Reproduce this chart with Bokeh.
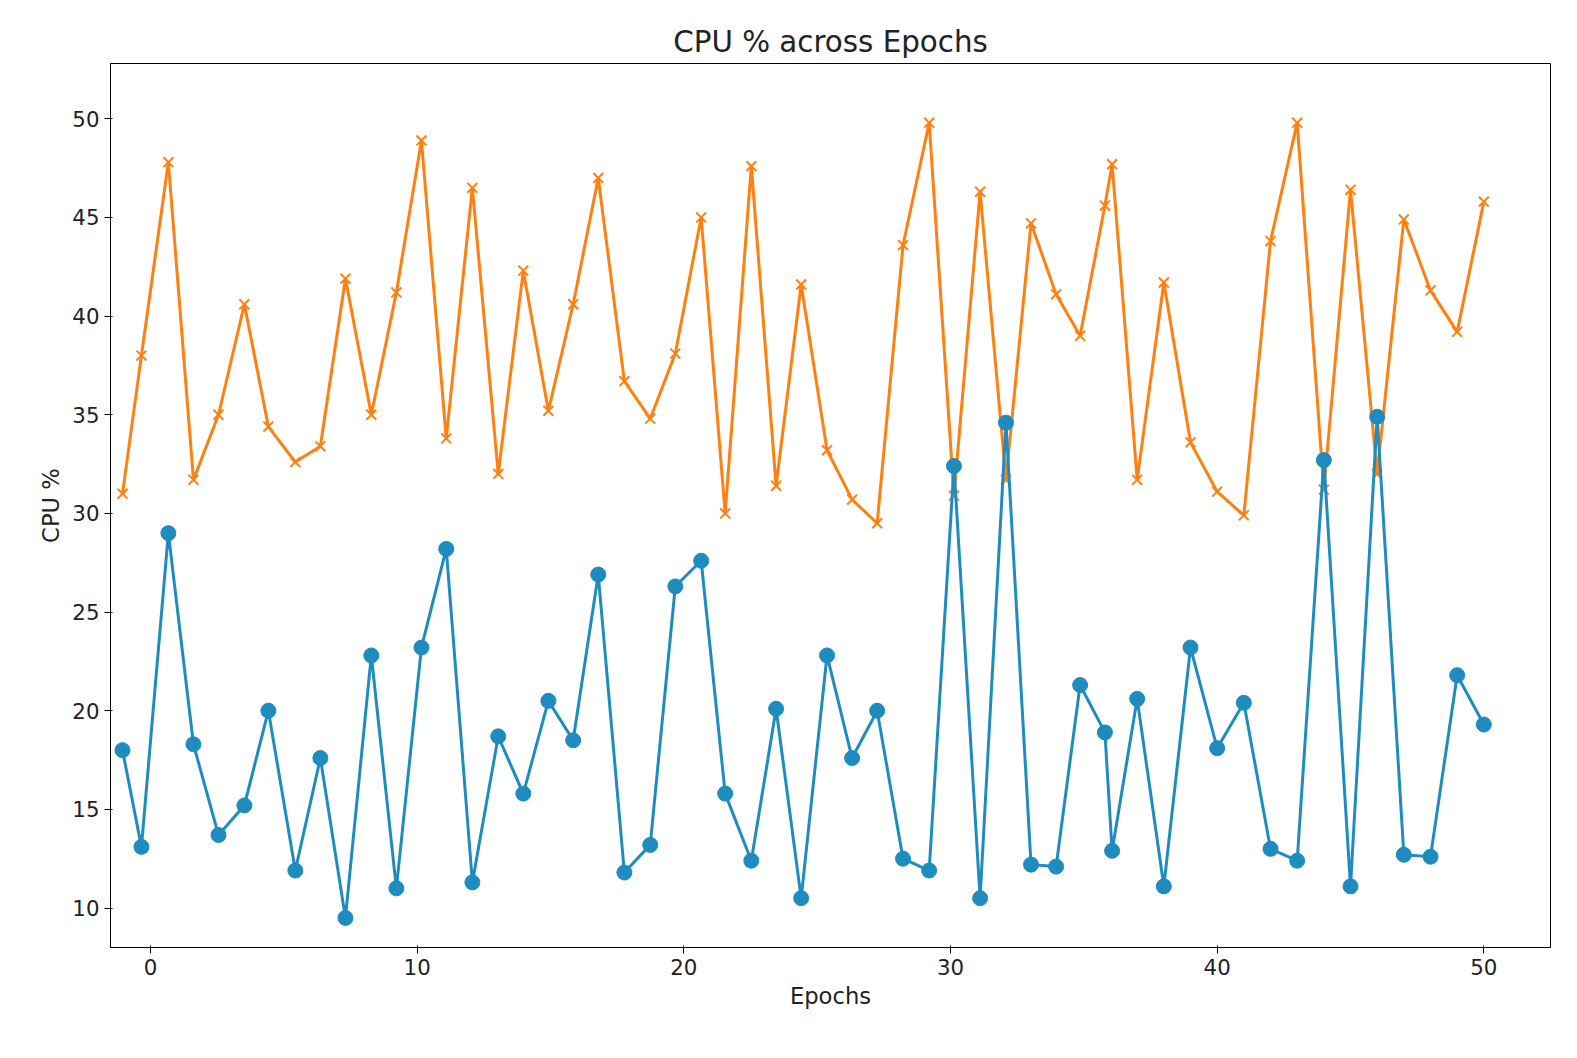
from bokeh.plotting import figure
from bokeh.embed import file_html
from bokeh.resources import INLINE
from bokeh.models import Range1d, FixedTicker

px = [122,141,168,193,218,244,268,295,320,345,371,396,421,446,472,498,523,548,573,598,624,650,675,701,725,751,776,801,827,852,877,903,929,954,980,1006,1031,1056,1080,1105,1112]
epochs = [round((p-150)/26.68, 2) for p in px] + list(range(37, 51))
cpu_b = [18,13.1,29,18.3,13.7,15.2,20,11.9,17.6,9.5,22.8,11,23.2,28.2,11.3,18.7,15.8,20.5,18.5,26.9,11.8,13.2,26.3,27.6,15.8,12.4,20.1,10.5,22.8,17.6,20,12.5,11.9,32.4,10.5,34.6,12.2,12.1,21.3,18.9,12.9,
         20.6,11.1,23.2,18.1,20.4,13,12.4,32.7,11.1,34.9,12.7,12.6,21.8,19.3]
cpu_o = [31,38,47.8,31.7,35,40.6,34.4,32.6,33.4,41.9,35,41.2,48.9,33.8,46.5,32,42.3,35.2,40.6,47,36.7,34.8,38.1,45,30,47.6,31.4,41.6,33.2,30.7,29.5,43.6,49.8,30.9,46.3,31.7,44.7,41.1,39,45.6,47.7,
         31.7,41.7,33.6,31.1,29.9,43.8,49.8,31.2,46.4,32,44.9,41.3,39.2,45.8]

p = figure(width=1560, height=1045, output_backend="svg", toolbar_location=None,
           title="CPU % across Epochs", x_axis_label="Epochs", y_axis_label="CPU %",
           x_range=Range1d(-1.5, 52.5), y_range=Range1d(8.0, 52.8),
           min_border_left=110, min_border_right=10, min_border_top=63, min_border_bottom=98)
p.title.align = "center"
p.title.text_font_size = "22pt"
p.title.text_font_style = "normal"
p.title.text_font = "DejaVu Sans"
p.title.text_color = "#222222"
p.grid.visible = False
p.outline_line_color = "black"
for ax in (p.xaxis, p.yaxis):
    ax.axis_label_text_font_size = "17pt"
    ax.axis_label_text_font_style = "normal"
    ax.major_label_text_font_size = "16pt"
    ax.minor_tick_line_color = None
    ax.axis_label_text_font = "DejaVu Sans"
    ax.major_label_text_font = "DejaVu Sans"
    ax.axis_label_text_color = "#222222"
    ax.major_label_text_color = "#222222"
    ax.axis_line_color = "black"
    ax.major_tick_line_color = "black"
p.xaxis.ticker = FixedTicker(ticks=[0, 10, 20, 30, 40, 50])
p.yaxis.ticker = FixedTicker(ticks=[10, 15, 20, 25, 30, 35, 40, 45, 50])

blue = "#1f8cc0"
orange = "#ff8010"
p.line(epochs, cpu_o, color=orange, line_width=3)
p.scatter(epochs, cpu_o, marker="x", color=orange, size=14, line_width=2)
p.line(epochs, cpu_b, color=blue, line_width=3)
p.scatter(epochs, cpu_b, marker="circle", color=blue, size=15)

open("out.html", "w").write(file_html(p, INLINE))
